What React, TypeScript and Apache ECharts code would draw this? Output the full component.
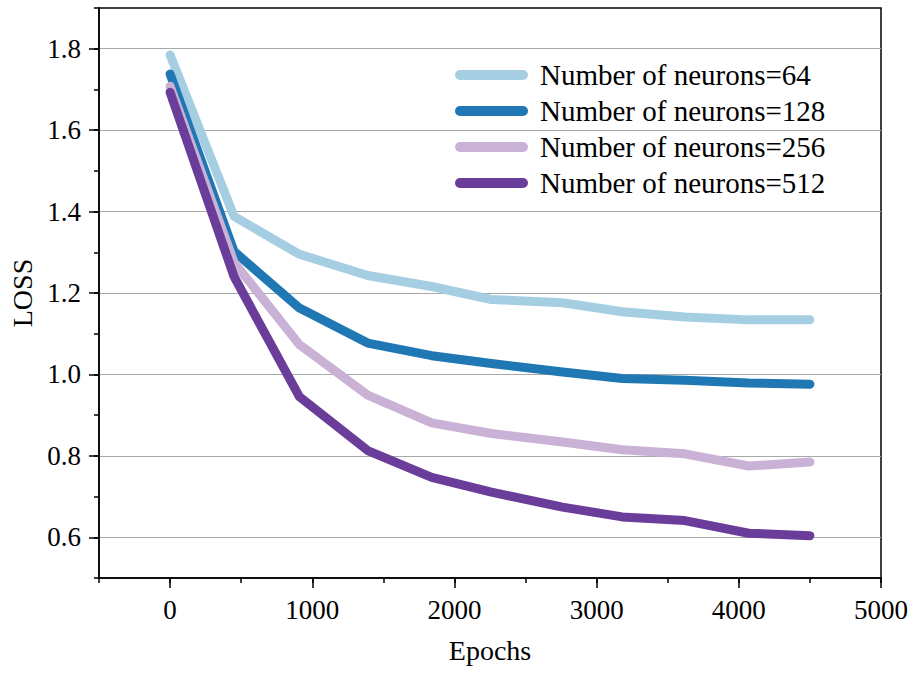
import React, { useEffect, useRef } from "react";
import * as echarts from "echarts";

// Training epochs at which the loss was recorded
const epochs = [0, 450, 910, 1390, 1840, 2260, 2760, 3180, 3620, 4070, 4500];

// Loss curves for each hidden-layer width
const loss64 = [1.785, 1.388, 1.295, 1.243, 1.216, 1.184, 1.176, 1.154, 1.141, 1.134, 1.134];
const loss128 = [1.738, 1.302, 1.163, 1.077, 1.046, 1.027, 1.006, 0.99, 0.986, 0.979, 0.976];
const loss256 = [1.708, 1.275, 1.073, 0.949, 0.881, 0.855, 0.834, 0.815, 0.805, 0.775, 0.785];
const loss512 = [1.693, 1.24, 0.945, 0.813, 0.747, 0.711, 0.674, 0.65, 0.641, 0.61, 0.604];

const seriesNames = [
  "Number of neurons=64",
  "Number of neurons=128",
  "Number of neurons=256",
  "Number of neurons=512",
];
const seriesColors = ["#a6cee3", "#1f78b4", "#cab2d6", "#6a3d9a"];
const seriesValues = [loss64, loss128, loss256, loss512];

const xMajorTicks = [0, 1000, 2000, 3000, 4000, 5000];
const yMajorTicks = [0.6, 0.8, 1.0, 1.2, 1.4, 1.6, 1.8];

const FONT = "'Liberation Serif', 'Times New Roman', serif";

export default function App() {
  const ref = useRef<HTMLDivElement>(null);

  useEffect(() => {
    if (!ref.current) return;
    const chart = echarts.init(ref.current, undefined, { renderer: "svg" });

    const series = seriesValues.map((vals, i) => ({
      name: seriesNames[i],
      type: "line",
      xAxisIndex: 0,
      yAxisIndex: 0,
      data: epochs.map((e, j) => [e, vals[j]]),
      showSymbol: false,
      symbol: "none",
      color: seriesColors[i],
      lineStyle: { width: 9, color: seriesColors[i], cap: "round", join: "round" },
      emphasis: { disabled: true },
    }));

    chart.setOption({
      animation: false,
      backgroundColor: "#fff",
      textStyle: { fontFamily: FONT },
      grid: {
        left: 99,
        right: 33,
        top: 8,
        bottom: 97,
        show: true,
        borderColor: "#000",
        borderWidth: 1.5,
        backgroundColor: "transparent",
      },
      legend: {
        orient: "vertical",
        left: 455,
        top: 60,
        padding: 0,
        itemWidth: 73,
        itemHeight: 10,
        itemGap: 6,
        icon: "path://M5,0 L68,0 A5,5 0 0 1 68,10 L5,10 A5,5 0 0 1 5,0 Z",
        data: seriesNames,
        textStyle: {
          fontFamily: FONT,
          fontSize: 29,
          lineHeight: 30,
          color: "#000",
          padding: [0, 0, 0, 7],
        },
      },
      xAxis: [
        {
          type: "value",
          position: "bottom",
          min: -500,
          max: 5000,
          minInterval: 1000,
          maxInterval: 1000,
          name: "Epochs",
          nameLocation: "middle",
          nameGap: 58,
          nameTextStyle: { fontFamily: FONT, fontSize: 28, color: "#000" },
          axisLine: { show: true, onZero: false, lineStyle: { color: "#000", width: 1.5 } },
          axisTick: {
            show: true,
            inside: false,
            length: 10,
            lineStyle: { color: "#000", width: 1.5 },
            customValues: xMajorTicks,
          },
          axisLabel: {
            fontFamily: FONT,
            fontSize: 27,
            color: "#000",
            margin: 18,
            customValues: xMajorTicks,
            formatter: (v: number) => String(v),
          },
          splitLine: { show: false },
        },
        {
          type: "value",
          position: "bottom",
          min: -500,
          max: 5000,
          interval: 500,
          axisLine: { show: false, onZero: false },
          axisTick: { show: true, inside: false, length: 5, lineStyle: { color: "#000", width: 1.5 } },
          axisLabel: { show: false },
          splitLine: { show: false },
        },
      ],
      yAxis: [
        {
          type: "value",
          position: "left",
          min: 0.5,
          max: 1.9,
          minInterval: 0.2,
          maxInterval: 0.2,
          name: "LOSS",
          nameLocation: "middle",
          nameGap: 60,
          nameTextStyle: { fontFamily: FONT, fontSize: 28, color: "#000" },
          axisLine: { show: true, onZero: false, lineStyle: { color: "#000", width: 1.5 } },
          axisTick: {
            show: true,
            inside: false,
            length: 10,
            lineStyle: { color: "#000", width: 1.5 },
            customValues: yMajorTicks,
          },
          axisLabel: {
            fontFamily: FONT,
            fontSize: 27,
            color: "#000",
            margin: 18,
            customValues: yMajorTicks,
            formatter: (v: number) => v.toFixed(1),
          },
          splitLine: {
            show: true,
            lineStyle: { color: "#a8a8a8", width: 1.2 },
          },
        },
        {
          type: "value",
          position: "left",
          min: 0.5,
          max: 1.9,
          interval: 0.1,
          axisLine: { show: false, onZero: false },
          axisTick: { show: true, inside: false, length: 5, lineStyle: { color: "#000", width: 1.5 } },
          axisLabel: { show: false },
          splitLine: { show: false },
        },
      ],
      series,
    });

    return () => chart.dispose();
  }, []);

  return (
    <div
      ref={ref}
      style={{ position: "fixed", left: 0, top: 0, width: 914, height: 675, background: "#fff" }}
    />
  );
}
